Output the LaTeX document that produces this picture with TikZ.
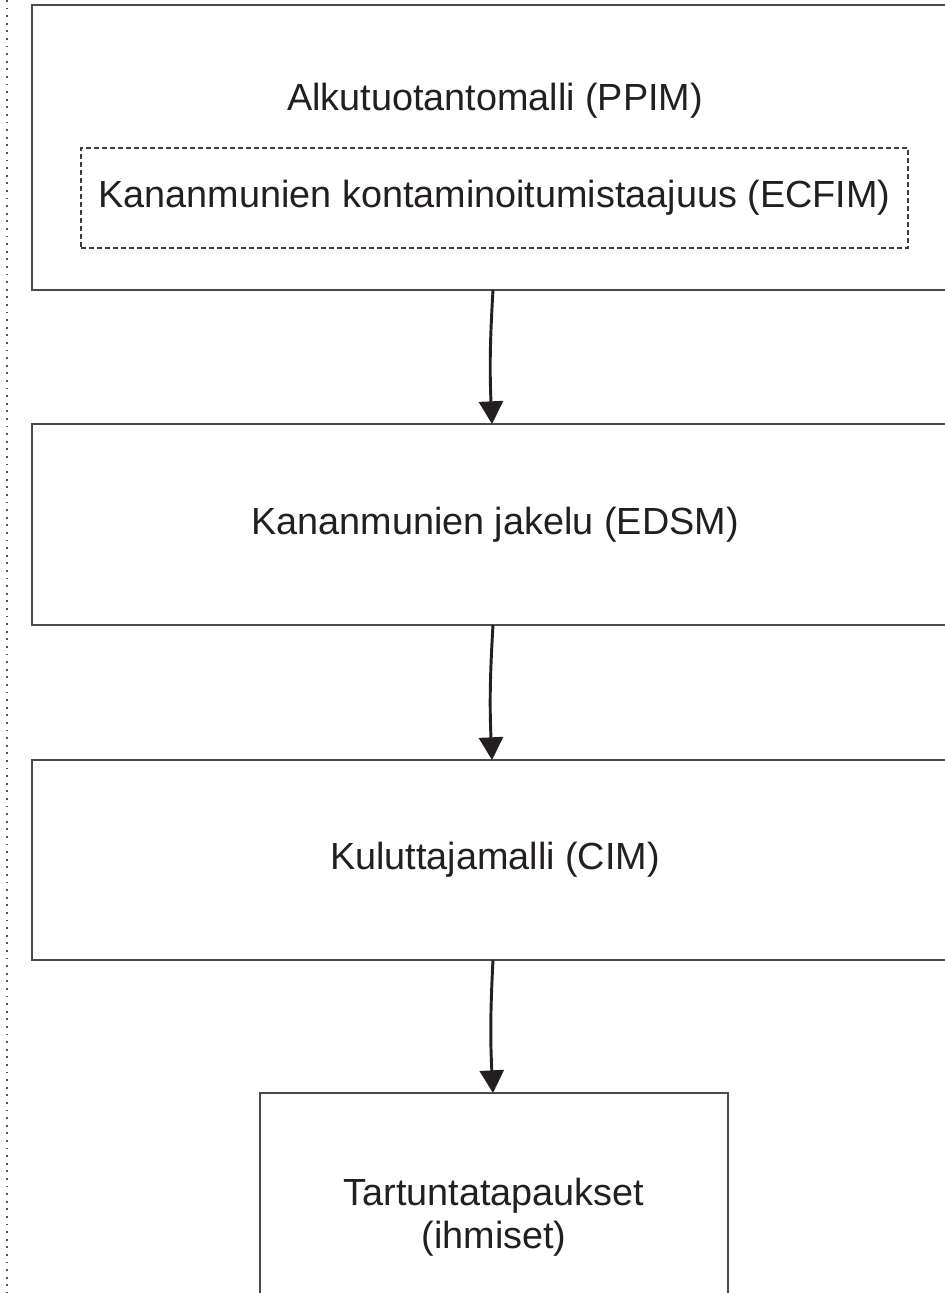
\documentclass[tikz,border=0pt]{standalone}
\usepackage{fontspec}
\setmainfont{Liberation Sans}
\usetikzlibrary{arrows.meta}
\definecolor{inkc}{HTML}{231F20}
\definecolor{boxline}{HTML}{4A4A4A}
\definecolor{dashline}{HTML}{3C3C3C}
\definecolor{dotline}{HTML}{555555}
\begin{document}
\begin{tikzpicture}[x=0.75pt,y=-0.75pt,
  every node/.style={font=\fontsize{28.35pt}{32.5pt}\selectfont, text=inkc},
  stagebox/.style={draw=boxline, line width=1.6pt, rectangle, inner sep=0pt, outer sep=0pt},
  subbox/.style={draw=dashline, line width=0.8pt, dash pattern=on 3.5pt off 2.5pt, rectangle, inner sep=0pt, outer sep=0pt},
  flow/.style={draw=inkc, line width=2.2pt, -{Triangle[width=18pt,length=17pt]}}]
  \useasboundingbox (0,0) rectangle (945,1293);
  \clip (0,0) rectangle (945,1293);

  % page margin marker
  \draw[dotline, line width=1.2pt, dash pattern=on 1.3pt off 4.4pt] (7,0) -- (7,1293);

  % primary production model with its contamination sub-model
  \node[stagebox, minimum width=694.5pt, minimum height=213.75pt] (ppim) at (495,147.5) {};
  \node (ppimt) at (495,101) {Alkutuotantomalli (PPIM)};
  \node[subbox, minimum width=620.25pt, minimum height=75pt] (ecfim) at (494.5,198) {Kananmunien kontaminoitumistaajuus (ECFIM)};

  % distribution model
  \node[stagebox, minimum width=694.5pt, minimum height=150.75pt] (edsm) at (495,524.5) {Kananmunien jakelu (EDSM)};

  % consumer model
  \node[stagebox, minimum width=694.5pt, minimum height=150pt] (cim) at (495,860) {Kuluttajamalli (CIM)};

  % human cases
  \node[stagebox, minimum width=351pt, minimum height=180pt] (cases) at (494,1213) {};
  \node[align=center] (casest) at (494,1217) {Tartuntatapaukset\\(ihmiset)};

  % flow between stages
  \draw[flow] (ppim.south -| 493,0) to[bend right=3] (edsm.north -| 492,0);
  \draw[flow] (edsm.south -| 493,0) to[bend right=3] (cim.north -| 492,0);
  \draw[flow] (cim.south -| 493,0) to[bend right=3] (cases.north -| 493,0);
\end{tikzpicture}
\end{document}
